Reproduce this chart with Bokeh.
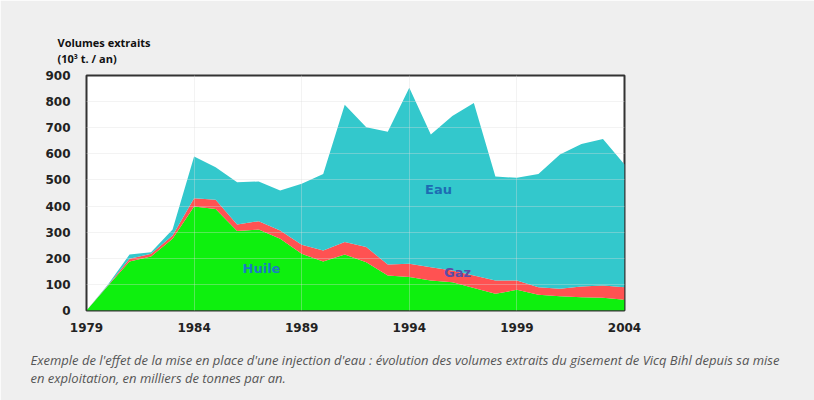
from bokeh.plotting import figure
from bokeh.models import Range1d, Label, FixedTicker, ColumnDataSource, Title
from bokeh.embed import file_html
from bokeh.resources import INLINE

years = list(range(1979, 2005))
huile = [0, 95, 188, 207, 275, 398, 389, 304, 310, 275, 217, 188, 214, 185, 134, 128, 115, 108, 86, 64, 79, 60, 55, 51, 49, 41]
gaz = [0, 2, 10, 10, 12, 32, 35, 25, 32, 31, 35, 42, 48, 58, 42, 51, 51, 45, 48, 51, 36, 29, 28, 41, 47, 48]
eau = [0, 3, 16, 6, 23, 160, 125, 162, 152, 154, 233, 293, 526, 459, 509, 674, 508, 592, 661, 398, 393, 434, 514, 546, 561, 470]
x_ticks = [1979, 1984, 1989, 1994, 1999, 2004]
y_ticks = [0, 100, 200, 300, 400, 500, 600, 700, 800, 900]

src = ColumnDataSource(dict(year=years, huile=huile, gaz=gaz, eau=eau))

W, H = 814, 400
p = figure(width=W, height=H, output_backend="svg", toolbar_location=None,
           x_range=Range1d(1979, 2004), y_range=Range1d(0, 900),
           min_border_left=86, min_border_right=190, min_border_top=75, min_border_bottom=90,
           border_fill_color="#efefef", background_fill_color="white")

p.varea_stack(["huile", "gaz", "eau"], x="year", source=src,
              color=["#0ef00e", "#ff5252", "#33c8cc"])

p.outline_line_color = "#333333"
p.outline_line_width = 2
p.xaxis.ticker = FixedTicker(ticks=x_ticks)
p.yaxis.ticker = FixedTicker(ticks=y_ticks)
p.grid.level = "overlay"
p.xgrid.ticker = FixedTicker(ticks=x_ticks)
p.ygrid.ticker = FixedTicker(ticks=y_ticks)
p.grid.grid_line_color = "#dcdcdc"
p.grid.grid_line_width = 1
p.grid.grid_line_alpha = 0.35

for ax in (p.xaxis, p.yaxis):
    ax.axis_line_color = None
    ax.major_tick_line_color = None
    ax.minor_tick_line_color = None
    ax.major_label_text_font = "DejaVu Sans"
    ax.major_label_text_font_style = "bold"
    ax.major_label_text_font_size = "12px"
    ax.major_label_text_color = "#222222"
p.yaxis.major_label_standoff = 10
p.xaxis.major_label_standoff = 6

def xd(px):
    return 1979 + (px - 86) / 21.52

def yd(py):
    return (310 - py) * 900 / 235

p.add_layout(Title(text="Volumes extraits\n(10³ t. / an)", text_font="Open Sans",
                   text_font_style="bold", text_font_size="11px", text_color="#111111",
                   text_line_height=1.07, align="left", offset=-29, standoff=18), "above")

caption = ("Exemple de l'effet de la mise en place d'une injection d'eau : évolution des volumes extraits du gisement de Vicq Bihl depuis sa mise\n"
           "en exploitation, en milliers de tonnes par an.")
p.add_layout(Title(text=caption, text_font="Open Sans", text_font_style="italic",
                   text_font_size="13px", text_color="#555555", text_line_height=1.0,
                   align="left", offset=-56, standoff=28), "below")

p.add_layout(Label(x=xd(438), y=yd(189), text="Eau", text_font="DejaVu Sans",
                   text_font_style="bold", text_font_size="13px", text_color="#1d6cb3",
                   text_align="center", text_baseline="middle"))
p.add_layout(Label(x=xd(261), y=yd(268), text="Huile", text_font="DejaVu Sans",
                   text_font_style="bold", text_font_size="13px", text_color="#1a7cc4",
                   text_align="center", text_baseline="middle"))
p.add_layout(Label(x=xd(457), y=yd(272), text="Gaz", text_font="DejaVu Sans",
                   text_font_style="bold", text_font_size="13px", text_color="#5a4ca8",
                   text_align="center", text_baseline="middle"))

open("out.html", "w").write(file_html(p, INLINE))
